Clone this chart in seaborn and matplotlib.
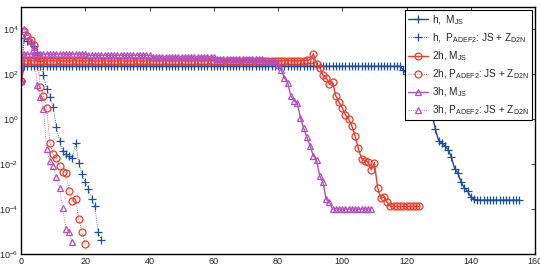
import matplotlib
matplotlib.use("Agg")
import matplotlib.pyplot as plt
import seaborn as sns
import numpy as np

# log10 of the plotted values
h_mjs = ([1.7] + [2.36] * 118 +
         [2.2, 2.0, 1.8, 1.6, 1.4, 1.2, 1.0, 0.8, 0.5, 0.2,
          -0.45, -0.95, -1.05, -1.2, -1.35, -1.7, -2.2, -2.4, -2.8, -3.05,
          -3.2, -3.45, -3.55] + [-3.6] * 14)
h_pad = [1.7, 3.6, 3.5, 3.4, 3.25, 3.0, 2.6, 1.96, 1.33, 1.0, 0.55, -0.33, -0.96,
         -1.4, -1.56, -1.65, -1.73, -1.07, -1.96, -2.44, -2.81, -3.1, -3.56, -3.88,
         -5.03, -5.36]
h2_mjs = ([1.7] + [2.6] * 88 +
          [2.62, 2.65, 2.92, 2.45, 2.3, 1.96, 1.86, 1.56, 1.65, 1.04, 0.75, 0.52,
           0.2, 0.0, -0.3, -0.74, -1.3, -1.75, -1.85, -1.9, -2.25, -1.93, -3.04,
           -3.52, -3.45, -3.7] + [-3.88] * 10)
h2_pad = [1.7, 3.93, 3.7, 3.55, 3.3, 2.8, 1.45, 1.04, 0.49, -1.04, -1.56, -1.73,
          -2.07, -2.33, -2.4, -3.21, -3.63, -3.56, -4.44, -5.03, -5.56]
h3_mjs = ([1.7] + [2.9] * 20 + [2.85] * 20 + [2.78] * 20 + [2.7] * 15 + [2.6] * 4 +
          [2.4, 2.2, 1.85, 1.63, 1.04, 0.82, 0.73, 0.07, -0.4, -0.8, -1.19, -1.63,
           -1.82, -2.52, -2.81, -3.56, -3.7] + [-4.0] * 13)
h3_pad = [1.7, 4.03, 3.75, 3.5, 3.2, 1.51, 1.0, 0.47, -1.33, -1.88, -2.1, -2.59,
          -3.04, -3.96, -4.89, -5.03, -5.48]

labels = [r"h,  M$_{JS}$", r"h,  P$_{ADEF2}$: JS + Z$_{D2N}$",
          r"2h, M$_{JS}$", r"2h, P$_{ADEF2}$: JS + Z$_{D2N}$",
          r"3h, M$_{JS}$", r"3h, P$_{ADEF2}$: JS + Z$_{D2N}$"]

blue = "#1f4e9e"
red = "#f23a2a"
purple = "#b050bf"

sns.set_style("white")
plt.rcParams["font.family"] = ["Liberation Sans", "DejaVu Sans"]
plt.rcParams["mathtext.default"] = "regular"

fig = plt.figure(figsize=(5.4, 2.8), dpi=100)
ax = fig.add_axes([21 / 540, 1 - 254 / 280, 514 / 540, 247 / 280])

series = [
    (h_mjs, blue, "+", "-", 1.0, labels[0]),
    (h_pad, blue, "+", ":", 0.6, labels[1]),
    (h2_mjs, red, "o", "-", 1.0, labels[2]),
    (h2_pad, red, "o", ":", 0.6, labels[3]),
    (h3_mjs, purple, "^", "-", 1.0, labels[4]),
    (h3_pad, purple, "^", ":", 0.6, labels[5]),
]
for vals, col, mk, ls, lw, lab in series:
    y = 10.0 ** np.array(vals)
    x = np.arange(len(vals))
    sns.lineplot(x=x, y=y, ax=ax, color=col, marker=mk, linestyle=ls, linewidth=lw,
                 markersize=5.5 if mk == "+" else 5, markerfacecolor="none",
                 markeredgecolor=col, markeredgewidth=0.9, label=lab)

ax.set_yscale("log")
ax.set_xlim(0, 160)
ax.set_ylim(1e-6, 1e5)
ax.set_xticks(range(0, 161, 20))
ax.set_yticks([1e-6, 1e-4, 1e-2, 1e0, 1e2, 1e4])
ax.minorticks_off()
ax.tick_params(direction="in", top=True, right=True, labelsize=6.5, length=3,
               width=0.6, pad=2)
for s in ax.spines.values():
    s.set_linewidth(1.0)
    s.set_color("black")

leg = ax.legend(loc="upper right", fontsize=7.2, frameon=True, fancybox=False,
                edgecolor="black", borderaxespad=0.3, handlelength=2.0,
                labelspacing=0.45, borderpad=0.3, handletextpad=0.4)
leg.get_frame().set_linewidth(0.8)
leg.get_frame().set_alpha(1)

fig.savefig("out.png", dpi=100)
